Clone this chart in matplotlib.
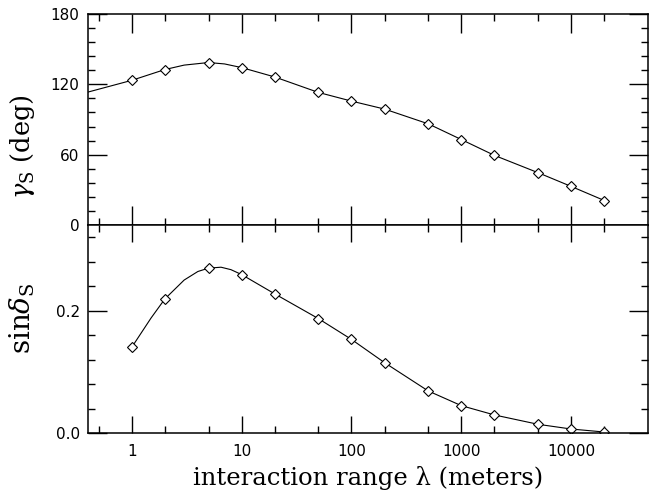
import matplotlib
matplotlib.use("Agg")
import matplotlib.pyplot as plt
from matplotlib.ticker import FixedLocator, NullFormatter

# ---- data ----
lam = [1, 2, 5, 10, 20, 50, 100, 200, 500, 1000, 2000, 5000, 10000, 20000]
gamma_s = [123.4, 132.6, 138.6, 134.3, 126.3, 113.1, 105.7, 98.9, 86.3, 72.9,
           59.4, 44.6, 32.9, 20.9]
sin_delta = [0.140, 0.219, 0.2695, 0.259, 0.2275, 0.187, 0.153, 0.115, 0.0687,
             0.0447, 0.0295, 0.0142, 0.0065, 0.0016]

# smooth curves drawn through the points (extra points)
curve_top_x = [0.4, 1, 2, 3, 5, 7, 10, 20, 50, 100, 200, 500, 1000, 2000, 5000,
               10000, 20000]
curve_top_y = [113.4, 123.4, 132.6, 136.4, 138.6, 137.4, 134.3, 126.3, 113.1,
               105.7, 98.9, 86.3, 72.9, 59.4, 44.6, 32.9, 20.9]
curve_bot_x = [1, 1.5, 2, 3, 4, 5, 6.5, 8, 10, 20, 50, 100, 200, 500, 1000, 2000,
               5000, 10000, 20000]
curve_bot_y = [0.140, 0.188, 0.219, 0.250, 0.264, 0.2695, 0.271, 0.267, 0.259,
               0.2275, 0.187, 0.153, 0.115, 0.0687, 0.0447, 0.0295, 0.0142,
               0.0065, 0.0016]

x_major = [1, 10, 100, 1000, 10000]
x_major_labels = ["1", "10", "100", "1000", "10000"]
x_minor = [0.5, 2, 5, 20, 50, 200, 500, 2000, 5000, 20000]

top_yticks = [0, 60, 120, 180]
top_yminor = [12, 24, 36, 48, 72, 84, 96, 108, 132, 144, 156, 168]
bot_yticks = [0.0, 0.2]
bot_ytick_labels = ["0.0", "0.2"]
bot_yminor = [0.04, 0.08, 0.12, 0.16, 0.24, 0.28, 0.32]

plt.rcParams['mathtext.fontset'] = 'dejavuserif'

fig = plt.figure(figsize=(6.53, 4.91), dpi=100)
L, R = 88 / 653, 648 / 653
yb = 1 - 433 / 491
ym = 1 - 225 / 491
yt = 1 - 14 / 491
ax1 = fig.add_axes([L, ym, R - L, yt - ym])
ax2 = fig.add_axes([L, yb, R - L, ym - yb], sharex=ax1)

for ax in (ax1, ax2):
    ax.set_xscale('log')
    ax.set_xlim(0.4, 50000)
    ax.xaxis.set_major_locator(FixedLocator(x_major))
    ax.xaxis.set_minor_locator(FixedLocator(x_minor))
    ax.xaxis.set_minor_formatter(NullFormatter())
    ax.tick_params(which='both', direction='in', top=True, right=True,
                   labelsize=11, width=1.0, colors='black')
    ax.tick_params(which='major', length=13.5)
    ax.tick_params(which='minor', length=5)
    for s in ax.spines.values():
        s.set_linewidth(1.1)

# top panel
ax1.plot(curve_top_x, curve_top_y, color='black', lw=0.8)
ax1.plot(lam, gamma_s, linestyle='none', marker='D', ms=5.5, mfc='white',
         mec='black', mew=0.8)
ax1.set_ylim(0, 180)
ax1.set_yticks(top_yticks)
ax1.yaxis.set_minor_locator(FixedLocator(top_yminor))
ax1.tick_params(axis='x', labelbottom=False)
ax1.tick_params(axis='y', pad=6)
ax1.set_ylabel(r'$\gamma_{\rm S}$ (deg)', family='DejaVu Serif', fontsize=18.5)
ax1.yaxis.set_label_coords(-0.091, 0.37)

# bottom panel
ax2.plot(curve_bot_x, curve_bot_y, color='black', lw=0.8)
ax2.plot(lam, sin_delta, linestyle='none', marker='D', ms=5.5, mfc='white',
         mec='black', mew=0.8)
ax2.set_ylim(0, 0.34)
ax2.set_yticks(bot_yticks)
ax2.set_yticklabels(bot_ytick_labels)
ax2.yaxis.set_minor_locator(FixedLocator(bot_yminor))
ax2.set_xticks(x_major)
ax2.set_xticklabels(x_major_labels)
ax2.tick_params(axis='x', which='major', length=12, pad=8)
ax2.tick_params(axis='y', pad=6)
ax2.set_ylabel(r'$\mathrm{sin}\delta_{\rm S}$', fontsize=20)
ax2.yaxis.set_label_coords(-0.091, 0.553)
ax2.set_xlabel('interaction range λ (meters)', family='DejaVu Serif',
               fontsize=17.5, labelpad=5)

fig.savefig('out.png', dpi=100)
